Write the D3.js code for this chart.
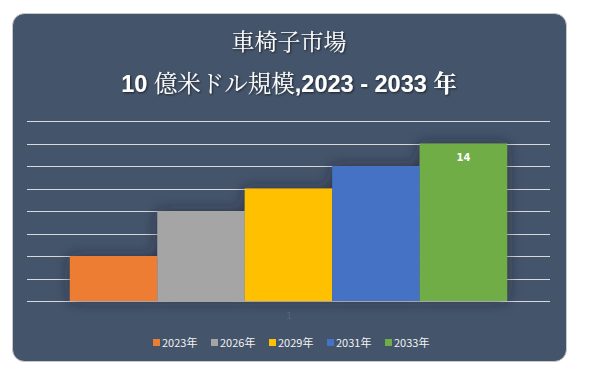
<!DOCTYPE html>
<html>
<head>
<meta charset="utf-8">
<script src="https://cdn.jsdelivr.net/npm/d3@7"></script>
<style>
  body { margin: 0; background: #fff; }
  svg { display: block; }
</style>
</head>
<body>
<div id="chart"></div>
<script>
// Chart data
const years = ["2023年", "2026年", "2029年", "2031年", "2033年"];
const values = [4, 8, 10, 12, 14];
const colors = ["#ED7D31", "#A5A5A5", "#FFC000", "#4472C4", "#70AD47"];
const yTicks = [0, 2, 4, 6, 8, 10, 12, 14, 16];
const category = ["1"];

const width = 591, height = 375;
const plot = { left: 27, right: 550, top: 121, bottom: 301 };
const serif = "'Noto Serif CJK JP', 'Noto Sans CJK JP', serif";
const sans = "'Liberation Sans', Arial, sans-serif";

const svg = d3.select("#chart").append("svg")
  .attr("width", width)
  .attr("height", height);

const defs = svg.append("defs");
const shadow = defs.append("filter")
  .attr("id", "barShadow")
  .attr("x", "-30%").attr("y", "-30%")
  .attr("width", "160%").attr("height", "160%");
shadow.append("feDropShadow")
  .attr("dx", 0).attr("dy", 0)
  .attr("stdDeviation", 7)
  .attr("flood-color", "#1b2433")
  .attr("flood-opacity", 0.6);

const textShadow = defs.append("filter").attr("id", "textShadow");
textShadow.append("feDropShadow")
  .attr("dx", 1).attr("dy", 1)
  .attr("stdDeviation", 1)
  .attr("flood-color", "#000")
  .attr("flood-opacity", 0.6);

// Card background
svg.append("rect")
  .attr("x", 12.5).attr("y", 13.5)
  .attr("width", 554).attr("height", 348)
  .attr("rx", 12)
  .attr("fill", "#44546A")
  .attr("stroke", "#c8c8c8")
  .attr("stroke-width", 1);

// Titles
svg.append("text")
  .attr("x", 289).attr("y", 50)
  .attr("text-anchor", "middle")
  .attr("fill", "#fff")
  .attr("filter", "url(#textShadow)")
  .style("font-family", serif)
  .style("font-size", "23px")
  .text("車椅子市場");

// second line mixes bold latin digits with serif CJK
const sub = [
  { t: "10 ", f: sans, w: "bold" },
  { t: "億米ドル規模", f: serif, w: "normal" },
  { t: ",2023 - 2033 ", f: sans, w: "bold" },
  { t: "年", f: serif, w: "bold" }
];
svg.append("text")
  .attr("x", 289).attr("y", 92)
  .attr("text-anchor", "middle")
  .attr("fill", "#fff")
  .attr("filter", "url(#textShadow)")
  .style("font-size", "23.5px")
  .selectAll("tspan")
  .data(sub)
  .join("tspan")
  .style("font-family", d => d.f)
  .style("font-weight", d => d.w)
  .text(d => d.t);

// Scales
const y = d3.scaleLinear()
  .domain([0, 16])
  .range([plot.bottom, plot.top]);

const x = d3.scaleBand()
  .domain(years)
  .range([plot.left, plot.right])
  .paddingInner(0)
  .paddingOuter(0.49);

// Gridlines
svg.append("g")
  .selectAll("line")
  .data(yTicks)
  .join("line")
  .attr("x1", plot.left).attr("x2", plot.right)
  .attr("y1", d => Math.round(y(d)) + 0.5)
  .attr("y2", d => Math.round(y(d)) + 0.5)
  .attr("stroke", "#d9d9d9")
  .attr("stroke-width", 1);

// Bars
svg.append("g")
  .attr("filter", "url(#barShadow)")
  .selectAll("rect")
  .data(years)
  .join("rect")
  .attr("x", d => x(d))
  .attr("y", (d, i) => y(values[i]))
  .attr("width", x.bandwidth())
  .attr("height", (d, i) => y(0) - y(values[i]))
  .attr("fill", (d, i) => colors[i]);

// Data label on last bar
const last = years.length - 1;
svg.append("text")
  .attr("x", x(years[last]) + x.bandwidth() / 2)
  .attr("y", y(values[last]) + 17)
  .attr("text-anchor", "middle")
  .attr("fill", "#fff")
  .style("font-family", "'DejaVu Sans', sans-serif")
  .style("font-weight", "bold")
  .style("font-size", "10px")
  .text(values[last]);

// Category axis label (barely visible)
svg.append("text")
  .attr("x", 289).attr("y", 319)
  .attr("text-anchor", "middle")
  .attr("fill", "#5a6578")
  .style("font-family", "'DejaVu Sans', sans-serif")
  .style("font-size", "9px")
  .text(category[0]);

// Legend
const legendX = [153, 211, 269, 327, 385];
const legend = svg.append("g")
  .selectAll("g")
  .data(years)
  .join("g")
  .attr("transform", (d, i) => `translate(${legendX[i]},343)`);

legend.append("rect")
  .attr("x", 0).attr("y", -4)
  .attr("width", 7).attr("height", 7)
  .attr("fill", (d, i) => colors[i]);

legend.append("text")
  .attr("x", 9).attr("y", 4)
  .attr("fill", "#f2f2f2")
  .style("font-family", "'Noto Sans CJK JP', sans-serif")
  .style("font-size", "11px")
  .text(d => d);
</script>
</body>
</html>
